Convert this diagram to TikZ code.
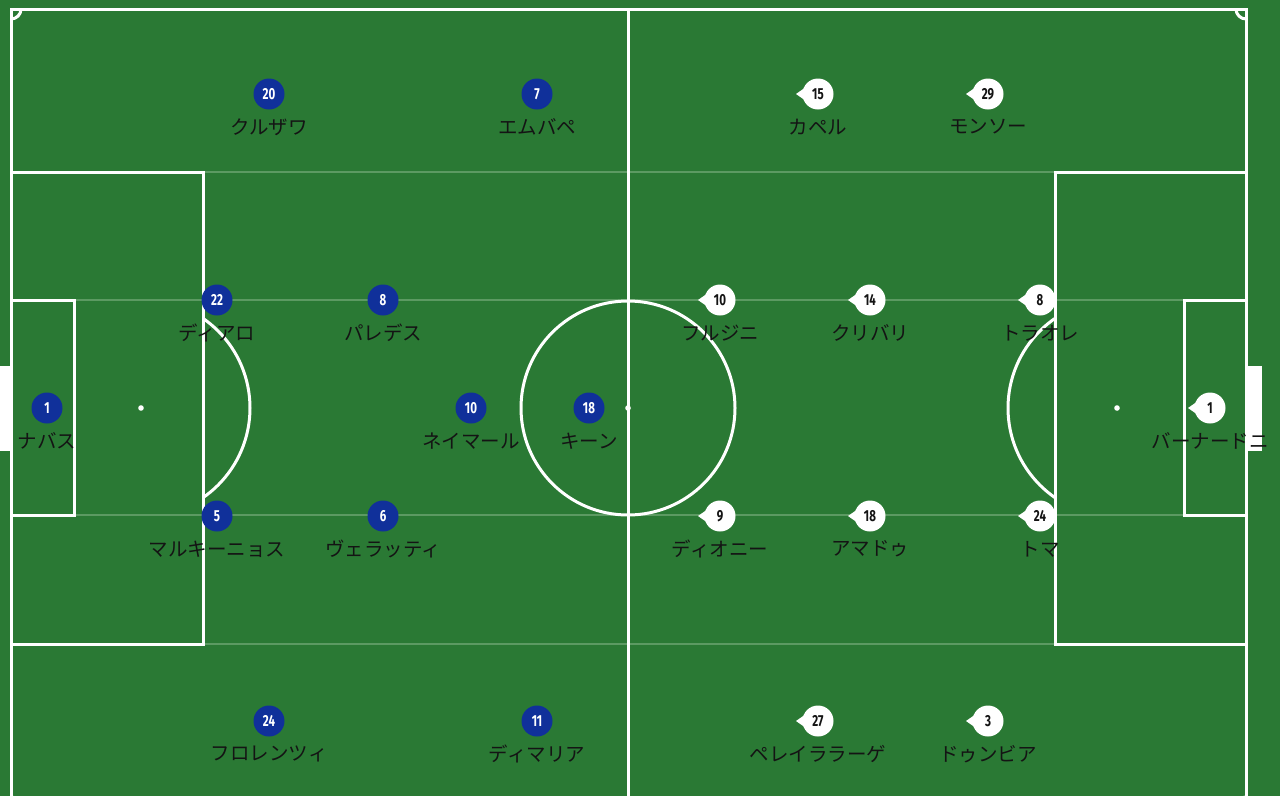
\documentclass[tikz,border=0pt]{standalone}
\usepackage{fontspec}
\newfontfamily\jp{Noto Sans CJK JP}
\newfontfamily\numf{Fira Sans}[FakeStretch=0.72]
\definecolor{pitch}{HTML}{2A7934}
\definecolor{faint}{HTML}{5C9A62}
\definecolor{home}{HTML}{10309A}
\definecolor{ink}{HTML}{141414}
\tikzset{
  line/.style={draw=white,line width=3pt},
  faintline/.style={draw=faint,line width=1.8pt},
  homep/.style={circle,fill=home,minimum size=31pt,inner sep=0pt,text=white,font=\numf\bfseries\fontsize{16}{16}\selectfont},
  awayp/.style={circle,fill=white,minimum size=31pt,inner sep=0pt,text=ink,font=\numf\bfseries\fontsize{16}{16}\selectfont},
  lbl/.style={inner sep=0pt,text=ink,font=\jp\fontsize{19.5}{19.5}\selectfont},
}
\newcommand\homeP[5]{%
  \node[homep] (#1) at (#2,#3) {#4};
  \node[lbl] (#1l) at (#2,#3+33) {#5};}
\newcommand\awayP[5]{%
  \node[awayp] (#1) at (#2,#3) {#4};
  \fill[white] ([xshift=-22pt]#1.center) -- ([xshift=-12pt,yshift=7pt]#1.center) -- ([xshift=-12pt,yshift=-7pt]#1.center) -- cycle;
  \node[lbl] (#1l) at (#2,#3+33) {#5};}
\begin{document}
\begin{tikzpicture}[x=1pt,y=-1pt]
\fill[pitch] (0,0) rectangle (1280,796);
\useasboundingbox (0,0) rectangle (1280,796);
% faint grid lines
\foreach \yy in {172,300,515,644} \draw[faintline] (11,\yy) -- (1246,\yy);
% goals
\fill[white] (0,366) rectangle (11,451);
\fill[white] (1247,366) rectangle (1262,451);
% outline
\draw[line] (11,900) -- (11,9) -- (1246,9) -- (1246,900);
\draw[line] (628,9) -- (628,900);
% corner arcs
\begin{scope}
\clip (11,9) rectangle (1246,807);
\draw[line] (11,9) circle (10);
\draw[line] (1246,9) circle (10);
\draw[line] (11,807) circle (10);
\draw[line] (1246,807) circle (10);
\end{scope}
% centre
\draw[line] (628,408) circle (107);
\fill[white] (628,408) circle (2.8);
% left boxes
\draw[line] (11,172) -- (203,172) -- (203,644) -- (11,644);
\draw[line] (11,300) -- (74,300) -- (74,515) -- (11,515);
\fill[white] (141,408) circle (2.8);
\begin{scope}
\clip (203,200) rectangle (400,600);
\draw[line] (141,408) circle (109);
\end{scope}
% right boxes
\draw[line] (1246,172) -- (1055,172) -- (1055,644) -- (1246,644);
\draw[line] (1246,300) -- (1184,300) -- (1184,515) -- (1246,515);
\fill[white] (1117,408) circle (2.8);
\begin{scope}
\clip (900,200) rectangle (1055,600);
\draw[line] (1117,408) circle (109);
\end{scope}
% home team
\homeP{h1}{47}{408}{1}{ナバス}
\homeP{h22}{217}{300}{22}{ディアロ}
\homeP{h5}{217}{516}{5}{マルキーニョス}
\homeP{h8}{383}{300}{8}{パレデス}
\homeP{h6}{383}{516}{6}{ヴェラッティ}
\homeP{h10}{471}{408}{10}{ネイマール}
\homeP{h18}{589}{408}{18}{キーン}
\homeP{h20}{269}{94}{20}{クルザワ}
\homeP{h7}{537}{94}{7}{エムバペ}
\homeP{h24}{269}{721}{24}{フロレンツィ}
\homeP{h11}{537}{721}{11}{ディマリア}
% away team
\awayP{a15}{818}{94}{15}{カペル}
\awayP{a29}{988}{94}{29}{モンソー}
\awayP{a10}{720}{300}{10}{フルジニ}
\awayP{a14}{870}{300}{14}{クリバリ}
\awayP{a8}{1040}{300}{8}{トラオレ}
\awayP{a1}{1210}{408}{1}{バーナードニ}
\awayP{a9}{720}{516}{9}{ディオニー}
\awayP{a18}{870}{516}{18}{アマドゥ}
\awayP{a24}{1040}{516}{24}{トマ}
\awayP{a27}{818}{721}{27}{ペレイララーゲ}
\awayP{a3}{988}{721}{3}{ドゥンビア}
\end{tikzpicture}
\end{document}
